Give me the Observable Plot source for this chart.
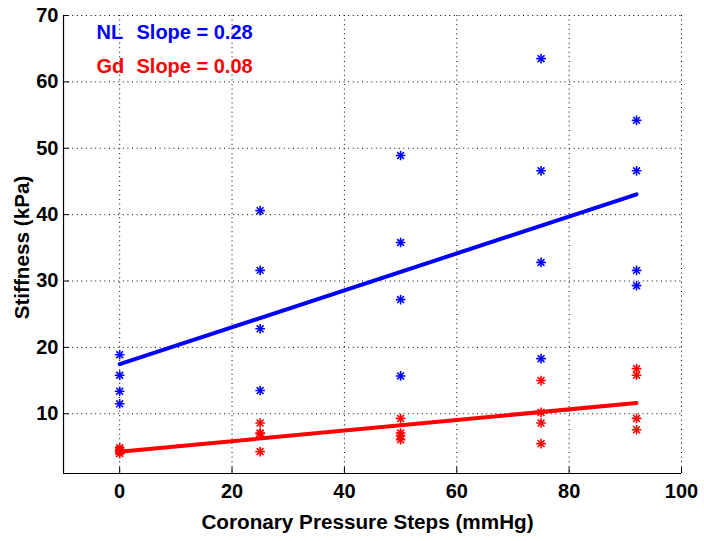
<!DOCTYPE html>
<html><head><meta charset="utf-8">
<script src="https://cdn.jsdelivr.net/npm/d3@7"></script>
<script src="https://cdn.jsdelivr.net/npm/@observablehq/plot@0.6"></script>
<style>body{margin:0;background:#fff} #chart svg{display:block}</style>
</head><body><div id="chart"></div>
<script>
// ---- data ----
const pressureSteps = [0, 25, 50, 75, 92];
const nlStiffness = [
  [18.9, 15.8, 13.4, 11.5],
  [40.6, 31.6, 22.8, 13.5],
  [48.9, 35.8, 27.2, 15.7],
  [63.5, 46.6, 32.8, 18.3],
  [54.2, 46.6, 31.6, 29.3]
];
const gdStiffness = [
  [4.9, 4.6, 4.3, 4.0],
  [8.6, 7.1, 7.0, 4.3],
  [9.3, 7.1, 6.7, 6.1],
  [15.0, 10.2, 8.6, 5.5],
  [16.8, 15.8, 9.3, 7.6]
];
const groupNames = ["NL", "Gd"];
const slopeLabels = ["Slope = 0.28", "Slope = 0.08"];
const groupColors = ["#0000ff", "#ff0000"];
const xTicks = [0, 20, 40, 60, 80, 100];
const yTicks = [10, 20, 30, 40, 50, 60, 70];
const xDomain = [-10, 100];
const yDomain = [1, 70];
const xLabel = "Coronary Pressure Steps (mmHg)";
const yLabel = "Stiffness (kPa)";

// ---- table ----
const table = [];
[nlStiffness, gdStiffness].forEach((series, g) => {
  series.forEach((vals, i) => vals.forEach(v => table.push({group: groupNames[g], step: pressureSteps[i], value: v})));
});

const W = 704, H = 541, mL = 63, mR = 23, mT = 15, mB = 68;
const frameW = W - mL - mR, frameH = H - mT - mB;
const font = "'Liberation Sans', Arial, Helvetica, sans-serif";

const chart = Plot.plot({
  width: W, height: H,
  marginLeft: mL, marginRight: mR, marginTop: mT, marginBottom: mB,
  style: {fontFamily: font, fontSize: "20px", fontWeight: "bold", background: "#fff", color: "#000"},
  x: {domain: xDomain, ticks: xTicks, tickSize: 0, tickPadding: 10, label: null},
  y: {domain: yDomain, ticks: yTicks, tickSize: 0, tickPadding: 5, label: null},
  color: {domain: groupNames, range: groupColors},
  marks: [
    Plot.ruleX(xTicks, {stroke: "#000", strokeWidth: 1, strokeDasharray: "1,3.6"}),
    Plot.ruleY(yTicks, {stroke: "#000", strokeWidth: 1, strokeDasharray: "1,3.6"}),
    Plot.ruleX([xDomain[0]], {stroke: "#000", strokeWidth: 1.2}),
    Plot.ruleY([yDomain[0]], {stroke: "#000", strokeWidth: 1.2}),
    Plot.ruleX(xTicks, {stroke: "#000", insetTop: frameH - 6}),
    Plot.ruleY(yTicks, {stroke: "#000", insetRight: frameW - 6}),
    Plot.linearRegressionY(table, {x: "step", y: "value", stroke: "group", ci: 0, strokeWidth: 4}),
    Plot.dot(table, {x: "step", y: "value", stroke: "group", symbol: "plus", r: 3.2, strokeWidth: 1.6}),
    Plot.dot(table, {x: "step", y: "value", stroke: "group", symbol: "times", r: 3.2, strokeWidth: 1.6}),
    ...groupNames.map((g, i) => Plot.text([g], {text: d => d, fill: d => d, frameAnchor: "top-left", textAnchor: "start", lineAnchor: "middle", dx: 33, dy: 17.5 + i * 33.3, fontSize: 20})),
    ...slopeLabels.map((s, i) => Plot.text([s], {text: d => d, fill: () => groupNames[i], frameAnchor: "top-left", textAnchor: "start", lineAnchor: "middle", dx: 73, dy: 17.5 + i * 33.3, fontSize: 20})),
    Plot.text([xLabel], {text: d => d, frameAnchor: "bottom", textAnchor: "middle", lineAnchor: "middle", dx: -5, dy: 49, fontSize: 20.7}),
    Plot.text([yLabel], {text: d => d, frameAnchor: "left", textAnchor: "middle", lineAnchor: "middle", rotate: -90, dx: -41, dy: 3, fontSize: 20.7})
  ]
});
document.getElementById("chart").appendChild(chart);
</script>
</body></html>
